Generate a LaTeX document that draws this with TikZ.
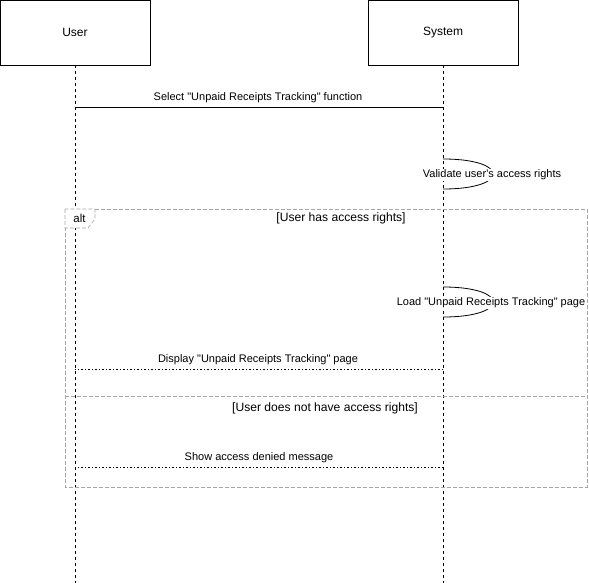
\documentclass[tikz,border=0pt]{standalone}
\usepackage{fontspec}
\setmainfont{Liberation Sans}
\newcommand{\dq}{\textquotedbl}
\begin{document}
\begin{tikzpicture}[x=1pt, y=-1pt,
	actor/.style={shape=rectangle, draw, line width=0.8pt, minimum width=150pt, minimum height=65pt, font=\fontsize{12}{14}\selectfont},
	lifeline/.style={line width=1pt, dash pattern=on 3pt off 3pt},
	call/.style={draw, line width=0.8pt},
	reply/.style={draw, line width=0.9pt, dash pattern=on 1.5pt off 2pt},
	msg/.style={font=\fontsize{11}{13}\selectfont, inner sep=1pt},
	selfmsg/.style={font=\fontsize{11}{13}\selectfont, fill=white, inner sep=1pt},
	frame/.style={draw=black!35, dash pattern=on 4pt off 2pt, line width=0.6pt},
	guard/.style={font=\fontsize{12.1}{14}\selectfont, inner sep=1pt}]
	\useasboundingbox (0,0) rectangle (589,583);

	% participants
	\node (user)[actor] at (75,32.5) {User};
	\node (system)[actor] at (443,32.5) {System};

	\coordinate (userend) at (75,583);
	\coordinate (sysend) at (443,583);
	\draw[lifeline] (user.south) -- (userend);
	\draw[lifeline] (system.south) -- (sysend);

	% combined fragment
	\draw[frame] (65,209) rectangle (587,487);
	\draw[frame, fill=white] (65,209) -- (65,228) -- (88,228) -- (95,219) -- (95,209) -- cycle;
	\draw[frame] (65,396) -- (587,396);
	\node (alt)[guard, font=\fontsize{11.5}{13}\selectfont] at (79.5,218) {alt};
	\node (g1)[guard] at (341,218) {[User has access rights]};
	\node (g2)[guard] at (325,408) {[User does not have access rights]};

	% select function
	\coordinate (m1a) at (75,107);
	\coordinate (m1b) at (443,107);
	\path[call] (m1a) edge (m1b);
	\node (m1)[msg] at (258,98) {Select \dq Unpaid Receipts Tracking\dq{} function};

	% validate
	\coordinate (s1a) at (443,159);
	\coordinate (s1b) at (443,189);
	\draw[line width=0.8pt] (s1a) .. controls (510,159) and (510,189) .. (s1b);
	\node (s1)[selfmsg] at (492,175) {Validate user\textquotesingle s access rights};

	% load page
	\coordinate (s2a) at (443,287);
	\coordinate (s2b) at (443,317);
	\draw[line width=0.8pt] (s2a) .. controls (510,287) and (510,317) .. (s2b);
	\node (s2)[selfmsg] at (491,303) {Load \dq Unpaid Receipts Tracking\dq{} page};

	% display page
	\coordinate (m2a) at (443,369);
	\coordinate (m2b) at (75,369);
	\path[reply] (m2a) edge (m2b);
	\node (m2)[msg] at (258,360) {Display \dq Unpaid Receipts Tracking\dq{} page};

	% access denied
	\coordinate (m3a) at (443,467);
	\coordinate (m3b) at (75,467);
	\path[reply] (m3a) edge (m3b);
	\node (m3)[msg] at (259,458) {Show access denied message};
\end{tikzpicture}
\end{document}
